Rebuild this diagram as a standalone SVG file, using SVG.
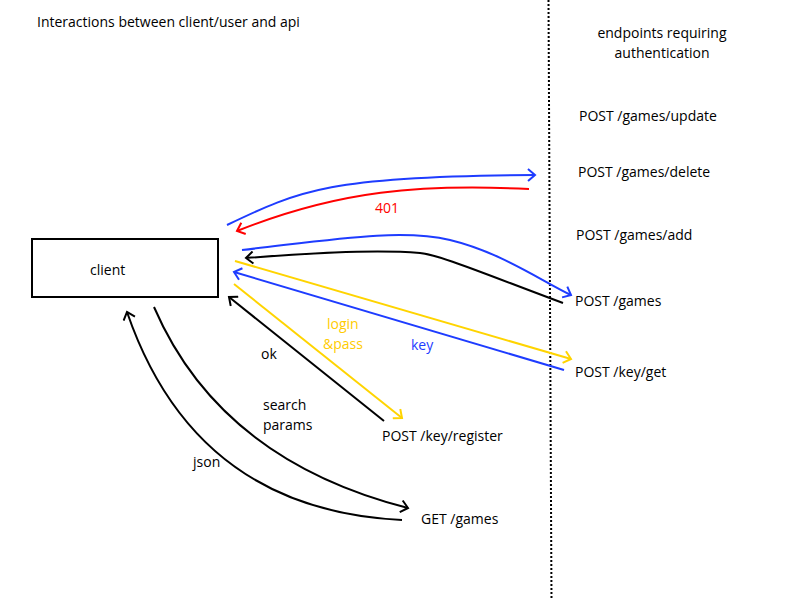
<svg xmlns="http://www.w3.org/2000/svg" width="800" height="600" viewBox="0 0 800 600">
<style>
text{font-family:"Open Sans","Liberation Sans",sans-serif;font-size:14px;fill:#000}
.c{fill:none;stroke-width:2}
.bl{stroke:#1e3cff}.rd{stroke:#ff0000}.bk{stroke:#000}.yl{stroke:#ffd400}
</style>
<defs>
<marker id="aBl" markerUnits="userSpaceOnUse" markerWidth="14" markerHeight="14" refX="10" refY="7" orient="auto" viewBox="0 0 14 14"><path d="M3,1 L10,7 L3,13" fill="none" stroke="#1e3cff" stroke-width="2"/></marker>
<marker id="aRd" markerUnits="userSpaceOnUse" markerWidth="14" markerHeight="14" refX="10" refY="7" orient="auto" viewBox="0 0 14 14"><path d="M3,1 L10,7 L3,13" fill="none" stroke="#ff0000" stroke-width="2"/></marker>
<marker id="aBk" markerUnits="userSpaceOnUse" markerWidth="14" markerHeight="14" refX="10" refY="7" orient="auto" viewBox="0 0 14 14"><path d="M3,1 L10,7 L3,13" fill="none" stroke="#000" stroke-width="2"/></marker>
<marker id="aYl" markerUnits="userSpaceOnUse" markerWidth="14" markerHeight="14" refX="10" refY="7" orient="auto" viewBox="0 0 14 14"><path d="M3,1 L10,7 L3,13" fill="none" stroke="#ffd400" stroke-width="2"/></marker>
</defs>
<rect width="800" height="600" fill="#fff"/>
<text x="37" y="27">Interactions between client/user and api</text>
<line x1="548.5" y1="0" x2="551.5" y2="600" stroke="#000" stroke-width="2" stroke-dasharray="2,2"/>
<g id="auth-header"><text x="662" y="38" text-anchor="middle">endpoints requiring</text><text x="662" y="58" text-anchor="middle">authentication</text></g>
<g id="client"><rect x="32" y="239" width="186" height="58" fill="#fff" stroke="#000" stroke-width="2"/><text x="90" y="275">client</text></g>
<g id="games-update"><text x="579" y="121">POST /games/update</text></g>
<g id="games-delete"><text x="578" y="177">POST /games/delete</text></g>
<g id="games-add"><text x="576" y="240">POST /games/add</text></g>
<g id="post-games"><text x="575" y="306">POST /games</text></g>
<g id="key-get"><text x="575" y="377">POST /key/get</text></g>
<g id="key-register"><text x="382" y="441">POST /key/register</text></g>
<g id="get-games"><text x="421" y="524">GET /games</text></g>
<g id="connectors">
<path class="c bl" d="M227,225 C300,190 330,176 535,175" marker-end="url(#aBl)"/>
<path class="c rd" d="M529,189 C420,184 340,190 237,231" marker-end="url(#aRd)"/>
<path class="c bl" d="M242,250 C330,240 400,228 450,240 S540,280 571,295" marker-end="url(#aBl)"/>
<path class="c bk" d="M563,303 C480,272 440,255 420,253 C370,249 300,254 246,258" marker-end="url(#aBk)"/>
<path class="c yl" d="M235,261 L571,359" marker-end="url(#aYl)"/>
<path class="c bl" d="M564,370 L234,272" marker-end="url(#aBl)"/>
<path class="c yl" d="M234,284 L402,418" marker-end="url(#aYl)"/>
<path class="c bk" d="M384,421 L229,297" marker-end="url(#aBk)"/>
<path class="c bk" d="M154,307 Q220,460 408,508" marker-end="url(#aBk)"/>
<path class="c bk" d="M402,520 Q195,510 127,312" marker-end="url(#aBk)"/>
<text x="375" y="213" style="fill:#ff0000">401</text>
<text x="327" y="329" style="fill:#ffcc00">login</text>
<text x="323" y="349" style="fill:#ffcc00">&amp;pass</text>
<text x="411" y="350" style="fill:#1e3cff">key</text>
<text x="261" y="359">ok</text>
<text x="263" y="410">search</text>
<text x="263" y="430">params</text>
<text x="193" y="467">json</text>
</g>
</svg>
